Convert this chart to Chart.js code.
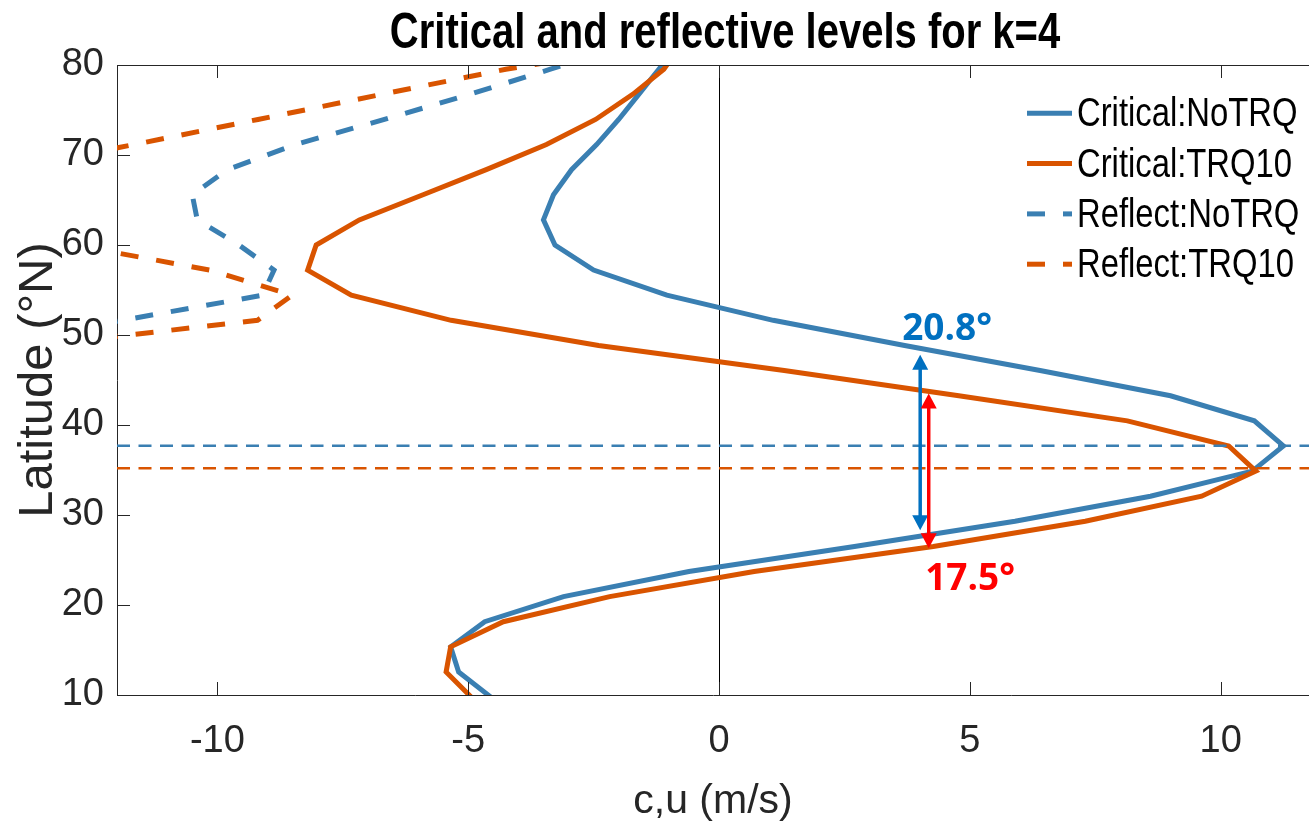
<!DOCTYPE html>
<html>
<head>
<meta charset="utf-8">
<title>Critical and reflective levels for k=4</title>
<script src="https://cdn.jsdelivr.net/npm/chart.js@4.4.1/dist/chart.umd.min.js"></script>
<style>
    html, body { margin: 0; padding: 0; background: #fff; }
    #wrap { width: 1309px; height: 826px; position: relative; }
</style>
</head>
<body>
<div id="wrap"><canvas id="chart"></canvas></div>
<script>
// ---------------------- DONNEES ---------------------- //
// Latitudes de la grille (°N), du nord vers le sud
const latitudes = [82.31, 79.53, 76.74, 73.95, 71.16, 68.37, 65.58, 62.79, 60.00, 57.21,
                   54.42, 51.63, 48.84, 46.05, 43.25, 40.46, 37.67, 34.88, 32.09, 29.30,
                   26.51, 23.72, 20.93, 18.14, 15.35, 12.56, 9.77];

// Niveaux critiques (m/s)
const critNoTRQ = [-0.8, -1.2, -1.6, -2.0, -2.44, -2.94, -3.3, -3.5, -3.27, -2.5,
                   -1.04, 1.08, 3.7, 6.4, 9.0, 10.67, 11.25, 10.63, 8.6, 5.9,
                   2.7, -0.6, -3.1, -4.67, -5.35, -5.19, -4.55];
const critTRQ10 = [-0.75, -1.1, -1.72, -2.46, -3.44, -4.64, -5.9, -7.17, -8.03, -8.2,
                   -7.33, -5.34, -2.4, 1.3, 4.78, 8.14, 10.16, 10.7, 9.62, 7.3,
                   4.27, 0.7, -2.18, -4.3, -5.35, -5.44, -4.94];

// Niveaux de réflexion (m/s), hors cadre au sud de ~50°N
const reflNoTRQ = [-1.8, -3.36, -4.97, -6.67, -8.45, -9.8, -10.5, -10.4, -9.57, -8.87,
                   -9.1, -11.9, -14.8, -17.0];
const reflTRQ10 = [-1.2, -4.25, -6.72, -9.19, -11.66, -14.2, -16.0, -15.0, -12.85, -10.15,
                   -8.51, -9.2, -13.6, -16.0];

// Latitude du maximum de chaque profil critique
const latMax = [37.7, 35.2];

// Axes
const xLimites = [-12, 11.76];
const yLimites = [10, 80];
const xTicks = [-10, -5, 0, 5, 10];
const yTicks = [10, 20, 30, 40, 50, 60, 70, 80];

// Ecarts annotés (flèches)
const ecartTextes = ['20.8°', '17.5°'];
const ecartX = [4.01, 4.18];
const ecartHaut = [47.8, 43.5];
const ecartBas = [28.3, 26.3];

// ---------------------- STYLE ---------------------- //
const bleu = '#3A7FB2';
const orange = '#D95400';
const fleches = [
    { couleur: '#0070C0', texteX: 3.65, texteY: 49.45 },
    { couleur: '#FF0000', texteX: 4.11, texteY: 21.67 }
];
const police = '"Liberation Sans", Arial, sans-serif';

function enPoints(valeurs) {
    return valeurs.map((v, i) => ({ x: v, y: latitudes[i] }));
}

function ligneHorizontale(lat) {
    return [{ x: xLimites[0], y: lat }, { x: xLimites[1], y: lat }];
}

// Texte condensé horizontalement (pas de police "Narrow" installée)
function texteEtroit(ctx, texte, x, y, echelle) {
    ctx.save();
    ctx.translate(x, y);
    ctx.scale(echelle, 1);
    ctx.fillText(texte, 0, 0);
    ctx.restore();
}

function dessinerFleche(ctx, x, yHaut, yBas, couleur) {
    const tete = 15, demi = 8;
    ctx.save();
    ctx.strokeStyle = couleur;
    ctx.fillStyle = couleur;
    ctx.lineWidth = 3.5;
    ctx.beginPath();
    ctx.moveTo(x, yHaut + tete - 1);
    ctx.lineTo(x, yBas - tete + 1);
    ctx.stroke();
    ctx.beginPath();
    ctx.moveTo(x, yHaut);
    ctx.lineTo(x - demi, yHaut + tete);
    ctx.lineTo(x + demi, yHaut + tete);
    ctx.closePath();
    ctx.fill();
    ctx.beginPath();
    ctx.moveTo(x, yBas);
    ctx.lineTo(x - demi, yBas - tete);
    ctx.lineTo(x + demi, yBas - tete);
    ctx.closePath();
    ctx.fill();
    ctx.restore();
}

// Titre, cadre, graduations intérieures, flèches et légende
const habillage = {
    id: 'habillage',
    afterDatasetsDraw(chart) {
        const ctx = chart.ctx;
        const sx = chart.scales.x, sy = chart.scales.y;
        fleches.forEach((f, i) => {
            dessinerFleche(ctx, sx.getPixelForValue(ecartX[i]),
                sy.getPixelForValue(ecartHaut[i]), sy.getPixelForValue(ecartBas[i]), f.couleur);
            ctx.save();
            ctx.fillStyle = f.couleur;
            ctx.font = 'bold 37px "Open Sans", sans-serif';
            ctx.textAlign = 'left';
            ctx.textBaseline = 'alphabetic';
            ctx.fillText(ecartTextes[i], sx.getPixelForValue(f.texteX), sy.getPixelForValue(f.texteY));
            ctx.restore();
        });
    },
    afterDraw(chart) {
        const ctx = chart.ctx;
        const area = chart.chartArea;
        const sx = chart.scales.x, sy = chart.scales.y;

        ctx.save();
        // Titre
        ctx.fillStyle = '#000';
        ctx.font = 'bold 50px ' + police;
        ctx.textAlign = 'center';
        ctx.textBaseline = 'alphabetic';
        texteEtroit(ctx, 'Critical and reflective levels for k=4',
            (area.left + sx.getPixelForValue(12)) / 2 + 6, 48, 0.8);

        // Cadre haut + graduations vers l'intérieur
        ctx.strokeStyle = '#262626';
        ctx.lineWidth = 1;
        ctx.beginPath();
        ctx.moveTo(area.left, area.top + 0.5);
        ctx.lineTo(area.right, area.top + 0.5);
        xTicks.forEach(v => {
            const px = Math.round(sx.getPixelForValue(v)) + 0.5;
            ctx.moveTo(px, area.bottom);
            ctx.lineTo(px, area.bottom - 13);
            ctx.moveTo(px, area.top);
            ctx.lineTo(px, area.top + 13);
        });
        yTicks.forEach(v => {
            const py = Math.round(sy.getPixelForValue(v)) + 0.5;
            ctx.moveTo(area.left, py);
            ctx.lineTo(area.left + 13, py);
        });
        ctx.stroke();

        // Légende
        const xTrait = area.right - 282;
        chart.data.datasets.slice(0, 4).forEach((ds, i) => {
            const y = area.top + 48.3 + i * 50.3;
            ctx.save();
            ctx.strokeStyle = ds.borderColor;
            ctx.lineWidth = ds.borderWidth;
            ctx.setLineDash(ds.borderDash || []);
            ctx.beginPath();
            ctx.moveTo(xTrait, y);
            ctx.lineTo(xTrait + 45, y);
            ctx.stroke();
            ctx.restore();
            ctx.fillStyle = '#000';
            ctx.font = '40px ' + police;
            ctx.textAlign = 'left';
            ctx.textBaseline = 'middle';
            texteEtroit(ctx, ds.label, xTrait + 50, y + 2, 0.82);
        });
        ctx.restore();
    }
};

const canvas = document.getElementById('chart');

new Chart(canvas.getContext('2d'), {
    type: 'scatter',
    data: {
        datasets: [
            { label: 'Critical:NoTRQ', data: enPoints(critNoTRQ), borderColor: bleu, borderWidth: 5, order: 6 },
            { label: 'Critical:TRQ10', data: enPoints(critTRQ10), borderColor: orange, borderWidth: 5, order: 5 },
            { label: 'Reflect:NoTRQ', data: enPoints(reflNoTRQ), borderColor: bleu, borderWidth: 5, borderDash: [18, 18], order: 4 },
            { label: 'Reflect:TRQ10', data: enPoints(reflTRQ10), borderColor: orange, borderWidth: 5, borderDash: [18, 18], order: 3 },
            { label: 'max NoTRQ', data: ligneHorizontale(latMax[0]), borderColor: bleu, borderWidth: 2.5, borderDash: [13, 8.5], order: 2 },
            { label: 'max TRQ10', data: ligneHorizontale(latMax[1]), borderColor: orange, borderWidth: 2.5, borderDash: [13, 8.5], order: 1 }
        ]
    },
    options: {
        responsive: true,
        maintainAspectRatio: false,
        animation: false,
        datasets: {
            scatter: {
                showLine: true,
                pointRadius: 0,
                pointHoverRadius: 0,
                fill: false,
                tension: 0,
                clip: 0,
                borderJoinStyle: 'miter',
                borderCapStyle: 'butt'
            }
        },
        layout: { padding: { top: 65, right: 0, bottom: 0, left: 0 } },
        plugins: {
            legend: { display: false },
            tooltip: { enabled: false },
            title: { display: false }
        },
        scales: {
            x: {
                type: 'linear',
                min: xLimites[0],
                max: xLimites[1],
                afterBuildTicks: scale => { scale.ticks = xTicks.map(v => ({ value: v })); },
                afterFit: scale => { scale.height = 131; },
                grid: {
                    drawTicks: false,
                    lineWidth: 1,
                    color: ctx => (ctx.tick && ctx.tick.value === 0) ? '#000' : 'rgba(0,0,0,0)'
                },
                border: { display: true, color: '#262626', width: 1 },
                ticks: {
                    color: '#262626',
                    padding: 24,
                    maxRotation: 0,
                    font: { family: police, size: 38 }
                },
                title: {
                    display: true,
                    text: 'c,u (m/s)',
                    color: '#262626',
                    font: { family: police, size: 41 },
                    padding: { top: 0, bottom: 0 }
                }
            },
            y: {
                type: 'linear',
                min: yLimites[0],
                max: yLimites[1],
                afterBuildTicks: scale => { scale.ticks = yTicks.map(v => ({ value: v })); },
                afterFit: scale => { scale.width = 117; },
                grid: { display: false, drawTicks: false },
                border: { display: true, color: '#262626', width: 1 },
                ticks: {
                    color: '#262626',
                    padding: 13,
                    font: { family: police, size: 38 }
                },
                title: {
                    display: true,
                    text: 'Latitude (°N)',
                    color: '#262626',
                    font: { family: police, size: 49 },
                    padding: { top: 9, bottom: 0 }
                }
            }
        }
    },
    plugins: [habillage]
});
</script>
</body>
</html>
